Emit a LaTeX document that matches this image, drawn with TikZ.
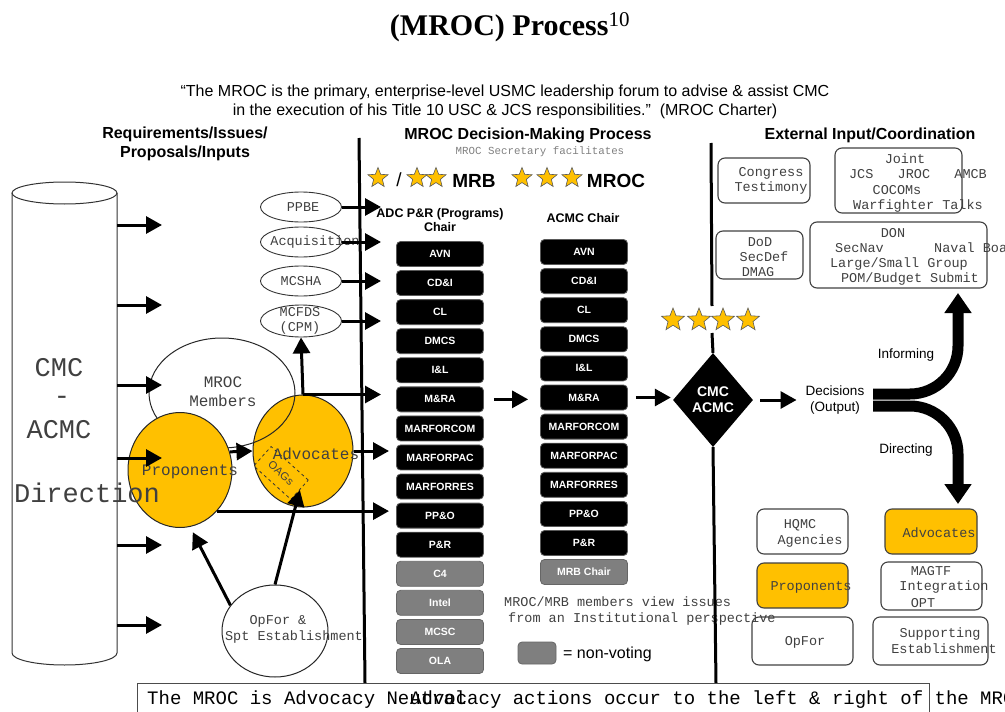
\documentclass[tikz,border=0pt]{standalone}
\usepackage{fontspec}
\setmainfont{Liberation Sans}
\setmonofont{Liberation Mono}
\newfontfamily\titleserif{Liberation Serif}
\usepackage{tikz}
\usetikzlibrary{arrows.meta,shapes.geometric}

\definecolor{mrocgold}{HTML}{FFC000}
\definecolor{nvgray}{HTML}{7F7F7F}
\definecolor{inkgray}{HTML}{404040}
\newcommand{\fsz}[2]{\fontsize{#1}{#2}\selectfont}

\tikzset{
  votebox/.style={rectangle, rounded corners=4pt, fill=black, draw=black!65, line width=0.8pt,
    minimum width=87pt, minimum height=25pt, inner sep=0pt, text=white, font=\bfseries\fsz{10.5}{12}},
  nvbox/.style={votebox, fill=nvgray, draw=black!60},
  extbox/.style={rectangle, rounded corners=7pt, draw=black!75, line width=1.1pt, inner sep=0pt},
  monotxt/.style={font=\ttfamily\fsz{13.5}{15.5}, text=inkgray, align=center, inner sep=0pt},
  bigmono/.style={font=\ttfamily\fsz{27}{30}, text=inkgray, inner sep=0pt},
  inell/.style={ellipse, draw=black!80, line width=0.9pt, minimum width=81pt, minimum height=30pt, inner sep=0pt},
  bigell/.style={ellipse, draw=black!85, line width=1pt, inner sep=0pt},
  bigarr/.style={line width=3pt, -{Triangle[length=16pt,width=17pt]}},
  gstar/.style={star, star points=5, star point ratio=2.3, fill=mrocgold, draw=black!65, line width=0.6pt,
    minimum size=21pt, inner sep=0pt},
  hdr/.style={font=\bfseries\fsz{16}{19}, align=center, inner sep=0pt},
  forkarr/.style={line width=11pt, rounded corners=48pt, -{Triangle[length=20pt,width=26pt]}},
}

\begin{document}
\begin{tikzpicture}[x=1pt,y=-1pt]
\useasboundingbox (0,0) rectangle (1005,712);

% title, charter quote and column headers
\node[font=\titleserif\bfseries\fsz{30}{34}, inner sep=0pt] (title) at (510,27) {(MROC) Process\textsuperscript{\mdseries 10}};
\node[font=\fsz{16}{19}, align=center, inner sep=0pt] (quote) at (505,102)
  {“The MROC is the primary, enterprise-level USMC leadership forum to advise \& assist CMC\\in the execution of his Title 10 USC \& JCS responsibilities.”\ \ (MROC Charter)};
\node[hdr] (reqhdr) at (185,144) {Requirements/Issues/\\Proposals/Inputs};
\node[hdr] (dechdr) at (528,135) {MROC Decision-Making Process};
\node[monotxt, font=\ttfamily\fsz{10.8}{12}, text=black!50] (sechdr) at (540,152) {MROC Secretary facilitates};
\node[hdr] (exthdr) at (870,135) {External Input/Coordination};

% dividing lines
\coordinate (lt) at (359,138);
\coordinate (lb) at (365,683);
\draw[line width=3pt] (lt) -- (lb);
\coordinate (inL) at (381,0);
\coordinate (inR) at (389,0);

% CMC / ACMC cylinder
\draw[line width=1pt, draw=black!80] (12,193) -- (12,653) arc[start angle=180, end angle=0, x radius=52.5, y radius=12] -- (117,193);
\draw[line width=1pt, draw=black!80] (64.5,193) ellipse [x radius=52.5, y radius=11];
\node[bigmono] (cmcT) at (59,368) {CMC};
\node[bigmono] (dashT) at (62,400) {-};
\node[bigmono] (acmcT) at (59,430) {ACMC};

% inputs
\node[inell] (ppbe) at (301,207) {};
\node[monotxt] (ppbeT) at (303,207) {PPBE};
\node[inell] (acq) at (301,242) {};
\node[monotxt] (acqT) at (315,242) {Acquisition};
\node[inell] (mcsha) at (301,281) {};
\node[monotxt] (mcshaT) at (301,281) {MCSHA};
\node[inell, minimum height=32pt] (mcfds) at (301,321) {};
\node[monotxt] (mcfdsT) at (300,321) {MCFDS\\(CPM)};

\node[bigell, fill=mrocgold, minimum width=100pt, minimum height=112pt] (adv) at (303,451) {};
\node[bigell, minimum width=146pt, minimum height=110pt] (mem) at (222,393) {};
\node[bigell, fill=mrocgold, minimum width=104pt, minimum height=115pt] (prop) at (180,470) {};
\node[draw=black!80, dashed, line width=0.8pt, minimum width=50pt, minimum height=26pt, rotate=-42,
  inner sep=0pt, font=\fsz{11}{12}, text=inkgray] (oag) at (281,473) {OAGs};
\node[monotxt, font=\ttfamily\fsz{16}{19}] (memT) at (223,392) {MROC\\Members};
\node[monotxt, font=\ttfamily\fsz{16}{19}] (propT) at (190,472) {Proponents};
\node[monotxt, font=\ttfamily\fsz{16}{19}] (advT) at (316,454) {Advocates};
\node[bigmono] (dirT) at (87,493) {Direction};

\node[bigell, fill=white, minimum width=106pt, minimum height=92pt] (opf) at (275,631) {};
\node[monotxt] (opfT1) at (278,621) {OpFor \&};
\node[monotxt] (opfT2) at (294,637) {Spt Establishment};

\foreach \y [count=\i] in {225,305,385,458,545,625} {
  \coordinate (cyl\i) at (117,\y);
  \draw[bigarr] (cyl\i) -- ++(45,0);
}
\draw[bigarr] (ppbe.east) -- (ppbe.east -| inL);
\draw[bigarr] (acq.east) -- (acq.east -| inL);
\draw[bigarr] (mcsha.east) -- (mcsha.east -| inL);
\draw[bigarr] (mcfds.east) -- (mcfds.east -| inL);
\draw[bigarr] (adv.north) -- (mcfds.south);
\draw[bigarr] (adv.north) -- (adv.north -| inL);
\draw[bigarr] (adv.east) -- (adv.east -| inR);
\draw[bigarr] (prop.-48) -- (prop.-48 -| inR);
\draw[bigarr] (prop.20) -- (adv.west);
\draw[bigarr, shorten >=6pt] (opf.150) -- (prop.-80);
\draw[bigarr] (opf.north) -- (oag.east);

% MRB / MROC members
\node[gstar] (st1) at (378,178) {};
\node[font=\fsz{19}{22}, inner sep=0pt] (slash) at (399,180) {/};
\node[gstar] (st2) at (417,178) {};
\node[gstar] (st3) at (436,178) {};
\node[font=\bfseries\fsz{19}{22}, inner sep=0pt] (mrbT) at (474,181) {MRB};
\node[gstar] (st4) at (522,178) {};
\node[gstar] (st5) at (547,178) {};
\node[gstar] (st6) at (572,178) {};
\node[font=\bfseries\fsz{19}{22}, inner sep=0pt] (mrocT) at (616,181) {MROC};

\node[font=\bfseries\fsz{12.5}{14}, align=center, inner sep=0pt] (adchdr) at (440,220) {ADC P\&R (Programs)\\Chair};
\node[font=\bfseries\fsz{12.5}{14}, inner sep=0pt] (acmchdr) at (583,218) {ACMC Chair};

\foreach \lbl [count=\i] in {AVN,CD\&I,CL,DMCS,I\&L,M\&RA,MARFORCOM,MARFORPAC,MARFORRES,PP\&O,P\&R}
  \node[votebox] (adc\i) at (440,{254+29.07*(\i-1)}) {\lbl};
\foreach \lbl [count=\i from 12] in {C4,Intel,MCSC,OLA}
  \node[nvbox] (adc\i) at (440,{254+29.07*(\i-1)}) {\lbl};
\foreach \lbl [count=\i] in {AVN,CD\&I,CL,DMCS,I\&L,M\&RA,MARFORCOM,MARFORPAC,MARFORRES,PP\&O,P\&R}
  \node[votebox] (acmc\i) at (584,{252+29.1*(\i-1)}) {\lbl};
\node[nvbox] (acmc12) at (584,572) {MRB Chair};

\node[monotxt, anchor=west, align=left] (viewT) at (504,611) {MROC/MRB members view issues\\\hspace*{4pt}from an Institutional perspective};
\node[nvbox, minimum width=38pt, minimum height=22pt] (leg) at (537,653) {};
\node[font=\fsz{16}{19}, anchor=west, inner sep=0pt] (legT) at (563,654) {= non-voting};

% CMC decision
\node[diamond, fill=black, aspect=0.85, minimum width=80pt, minimum height=94pt, inner sep=0pt,
  text=white, font=\bfseries\fsz{14}{16}, align=center] (dia) at (713,400) {CMC\\ACMC};
\foreach \x [count=\i] in {673,699,723,748}
  \node[gstar, minimum size=24pt] (cs\i) at (\x,320) {};
\coordinate (rt) at (711,143);
\coordinate (rs) at (712,306);
\coordinate (rs2) at (712,333);
\coordinate (rb) at (716,683);
\draw[line width=3pt] (rt) -- (rs);
\draw[line width=3pt] (rs2) -- (dia.north);
\draw[line width=3pt] (dia.south) -- (rb);

\draw[bigarr, shorten <=10pt, shorten >=12pt] (adc6.east) -- (adc6.east -| acmc6.west);
\draw[bigarr, shorten <=8pt, shorten >=2pt] (acmc6.east) -- (acmc6.east -| dia.west);

\node[font=\fsz{13.5}{16}, align=center, inner sep=0pt] (dec) at (835,400) {Decisions\\(Output)};
\draw[bigarr, shorten <=7pt, shorten >=9pt] (dia.east) -- (dec.west);

\coordinate (fk) at (873,400);
\coordinate (upT) at (958,293);
\coordinate (dnT) at (958,504);
\draw[forkarr] ([yshift=6pt]fk) -| (upT);
\draw[forkarr] ([yshift=-6pt]fk) -| (dnT);
\node[font=\fsz{13.5}{16}, inner sep=0pt] (infT) at (906,355) {Informing};
\node[font=\fsz{13.5}{16}, inner sep=0pt] (dirgT) at (906,450) {Directing};

% external input / coordination
\node[extbox, minimum width=92pt, minimum height=45pt] (cong) at (764,180.5) {};
\node[monotxt] (congT) at (771,181) {Congress\\Testimony};
\node[extbox, minimum width=127pt, minimum height=65pt] (joint) at (898.5,180.5) {};
\node[monotxt] (jointT1) at (905,159) {Joint};
\node[monotxt] (jointT2) at (918,174) {JCS\ \ \ JROC\ \ \ AMCB};
\node[monotxt] (jointT3) at (897,190) {COCOMs};
\node[monotxt] (jointT4) at (918,206) {Warfighter Talks};
\node[extbox, minimum width=87pt, minimum height=48pt] (dod) at (759.5,255) {};
\node[monotxt] (dodT1) at (760,242) {DoD};
\node[monotxt] (dodT2) at (764,257) {SecDef};
\node[monotxt] (dodT3) at (758,272) {DMAG};
\node[extbox, minimum width=177pt, minimum height=66pt] (don) at (898.5,255) {};
\node[monotxt] (donT1) at (893,233) {DON};
\node[monotxt, anchor=west] (donT2) at (835,248) {SecNav};
\node[monotxt, anchor=west] (donT3) at (934,248) {Naval Board};
\node[monotxt] (donT4) at (899,264) {Large/Small Group};
\node[monotxt] (donT5) at (910,279) {POM/Budget Submit};

\node[extbox, minimum width=91pt, minimum height=45pt] (hqmc) at (802.5,531.5) {};
\node[monotxt] (hqmcT1) at (800,525) {HQMC};
\node[monotxt] (hqmcT2) at (810,541) {Agencies};
\node[extbox, fill=mrocgold, minimum width=92pt, minimum height=45pt] (advR) at (931,531.5) {};
\node[monotxt] (advRT) at (939,533) {Advocates};
\node[extbox, fill=mrocgold, minimum width=91pt, minimum height=45pt] (propR) at (802.5,585.5) {};
\node[monotxt] (propRT) at (811,587) {Proponents};
\node[extbox, minimum width=101pt, minimum height=48pt] (magtf) at (931.5,586) {};
\node[monotxt] (magtfT1) at (931,571) {MAGTF};
\node[monotxt] (magtfT2) at (944,587) {Integration};
\node[monotxt] (magtfT3) at (923,603) {OPT};
\node[extbox, minimum width=101pt, minimum height=48pt] (opfR) at (802.5,641) {};
\node[monotxt] (opfRT) at (805,642) {OpFor};
\node[extbox, minimum width=115pt, minimum height=48pt] (spt) at (930.5,641) {};
\node[monotxt] (sptT1) at (940,634) {Supporting};
\node[monotxt] (sptT2) at (944,649) {Establishment};

% advocacy note
\node[draw=black!70, line width=1pt, fill=white, minimum width=792pt, minimum height=50pt, anchor=north west,
  inner sep=0pt] (advbox) at (137,683) {};
\node[font=\ttfamily\fsz{19}{22}, anchor=west, inner sep=0pt] (noteT1) at (147,700) {The MROC is Advocacy Neutral};
\node[font=\ttfamily\fsz{19}{22}, anchor=west, inner sep=0pt] (noteT2) at (410,700) {Advocacy actions occur to the left \& right of the MROC};
\end{tikzpicture}
\end{document}
